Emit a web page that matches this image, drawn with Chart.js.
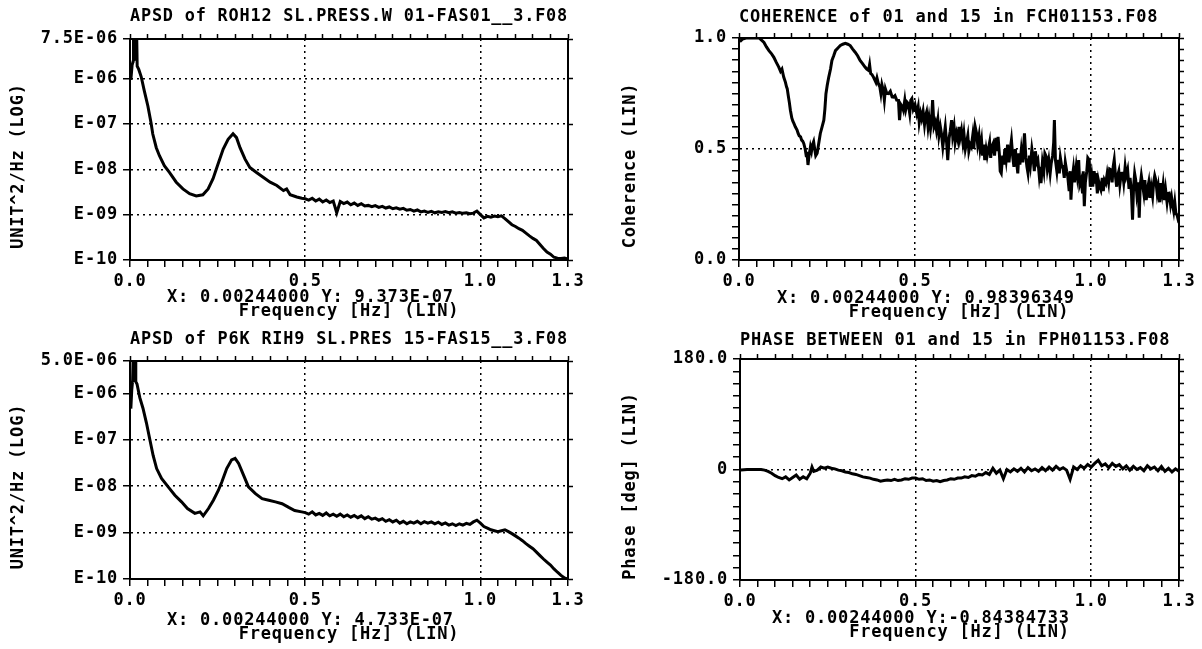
<!DOCTYPE html>
<html>
<head>
<meta charset="utf-8">
<script src="https://cdn.jsdelivr.net/npm/chart.js@4.4.1/dist/chart.umd.min.js"></script>
<style>
  html, body { margin: 0; padding: 0; background: #fff; }
  #page { position: relative; width: 1202px; height: 649px; overflow: hidden; background: #fff; }
  canvas { position: absolute; }
</style>
</head>
<body>
<div id="page">
  <canvas id="c1" width="601" height="320" style="left:0;top:0"></canvas>
  <canvas id="c2" width="601" height="320" style="left:601px;top:0"></canvas>
  <canvas id="c3" width="601" height="329" style="left:0;top:320px"></canvas>
  <canvas id="c4" width="601" height="329" style="left:601px;top:320px"></canvas>
</div>
<script>
// frequency axis (Hz), shared by all four panels
const xLabelVals = [0, 0.5, 1.0, 1.25];
const xLabels = ["0.0", "0.5", "1.0", "1.3"];
const xGridVals = [0.5, 1.0];
const xTickVals = [];
for (let i = 0; i <= 25; i++) xTickVals.push(+(i * 0.05).toFixed(2));

// APSD of ROH12 SL.PRESS.W 01  [freq, UNIT^2/Hz]
const apsd1Points = [
  [0.0024, 9.4e-7], [0.006, 2.0e-6], [0.0095, 2.5e-6], [0.010, 1e-5], [0.0115, 2.6e-6],
  [0.016, 2.9e-6], [0.019, 1e-5], [0.0205, 1.9e-6], [0.025, 1.6e-6], [0.032, 1.1e-6],
  [0.041, 5.3e-7], [0.051, 2.5e-7], [0.060, 1.07e-7], [0.065, 6.0e-8], [0.075, 3.0e-8],
  [0.084, 2.0e-8], [0.098, 1.2e-8], [0.113, 8.5e-9], [0.132, 5.2e-9], [0.151, 3.7e-9],
  [0.170, 2.9e-9], [0.189, 2.6e-9], [0.208, 2.75e-9], [0.223, 3.7e-9], [0.237, 6.2e-9],
  [0.251, 1.3e-8], [0.266, 2.8e-8], [0.280, 4.6e-8], [0.294, 6.1e-8], [0.304, 5.0e-8],
  [0.314, 3.0e-8], [0.328, 1.7e-8], [0.342, 1.1e-8], [0.361, 8.5e-9], [0.381, 6.6e-9],
  [0.400, 5.2e-9], [0.419, 4.4e-9], [0.438, 3.4e-9], [0.447, 3.7e-9], [0.457, 2.75e-9],
  [0.476, 2.45e-9], [0.49, 2.3e-9], [0.50, 2.24e-9], [0.51, 2.1e-9], [0.52, 2.3e-9],
  [0.53, 2.0e-9], [0.54, 2.2e-9], [0.55, 1.9e-9], [0.56, 2.1e-9], [0.57, 1.85e-9],
  [0.58, 2.0e-9], [0.59, 1.1e-9], [0.60, 1.95e-9], [0.61, 1.75e-9], [0.62, 1.9e-9],
  [0.63, 1.65e-9], [0.64, 1.8e-9], [0.65, 1.6e-9], [0.66, 1.75e-9], [0.67, 1.55e-9],
  [0.68, 1.6e-9], [0.69, 1.5e-9], [0.70, 1.58e-9], [0.71, 1.45e-9], [0.72, 1.52e-9],
  [0.73, 1.4e-9], [0.74, 1.48e-9], [0.75, 1.35e-9], [0.76, 1.42e-9], [0.77, 1.32e-9],
  [0.78, 1.38e-9], [0.79, 1.25e-9], [0.80, 1.3e-9], [0.81, 1.2e-9], [0.82, 1.27e-9],
  [0.83, 1.15e-9], [0.84, 1.2e-9], [0.85, 1.12e-9], [0.86, 1.18e-9], [0.87, 1.1e-9],
  [0.88, 1.16e-9], [0.89, 1.12e-9], [0.90, 1.17e-9], [0.91, 1.1e-9], [0.92, 1.15e-9],
  [0.93, 1.08e-9], [0.94, 1.12e-9], [0.95, 1.07e-9], [0.96, 1.1e-9], [0.97, 1.05e-9],
  [0.98, 1.08e-9], [0.99, 1.2e-9], [1.00, 1.0e-9], [1.01, 8.5e-10], [1.02, 9.2e-10],
  [1.03, 8.8e-10], [1.04, 9.3e-10], [1.05, 9.0e-10], [1.06, 9.4e-10], [1.07, 8.2e-10],
  [1.08, 7.0e-10], [1.09, 6.0e-10], [1.10, 5.5e-10], [1.11, 4.9e-10], [1.12, 4.5e-10],
  [1.13, 3.9e-10], [1.14, 3.4e-10], [1.15, 3.0e-10], [1.16, 2.7e-10], [1.17, 2.2e-10],
  [1.18, 1.8e-10], [1.19, 1.5e-10], [1.20, 1.35e-10], [1.21, 1.15e-10], [1.22, 1.1e-10],
  [1.23, 1.08e-10], [1.24, 1.1e-10], [1.25, 1.05e-10]
];
const apsd1TickVals = [1e-10, 1e-9, 1e-8, 1e-7, 1e-6, 7.5e-6];
const apsd1TickLabels = ["E-10", "E-09", "E-08", "E-07", "E-06", "7.5E-06"];

// APSD of P6K RIH9 SL.PRES 15
const apsd2Points = [
  [0.0024, 4.7e-7], [0.005, 1.2e-6], [0.0075, 1.9e-6], [0.009, 6e-6], [0.0105, 1.9e-6],
  [0.0135, 2.0e-6], [0.015, 6e-6], [0.0165, 1.8e-6], [0.020, 1.6e-6], [0.028, 8.1e-7],
  [0.037, 4.8e-7], [0.047, 2.3e-7], [0.056, 1.07e-7], [0.066, 4.6e-8], [0.076, 2.4e-8],
  [0.090, 1.47e-8], [0.109, 9.7e-9], [0.128, 6.4e-9], [0.147, 4.6e-9], [0.164, 3.3e-9],
  [0.185, 2.6e-9], [0.200, 2.8e-9], [0.209, 2.3e-9], [0.224, 3.3e-9], [0.238, 5.0e-9],
  [0.252, 8.1e-9], [0.262, 1.23e-8], [0.276, 2.4e-8], [0.290, 3.7e-8], [0.300, 4.0e-8],
  [0.310, 3.1e-8], [0.324, 1.74e-8], [0.338, 9.7e-9], [0.358, 6.9e-9], [0.377, 5.4e-9],
  [0.396, 5.0e-9], [0.415, 4.6e-9], [0.434, 4.2e-9], [0.453, 3.5e-9], [0.470, 3.0e-9],
  [0.49, 2.8e-9], [0.50, 2.7e-9], [0.51, 2.5e-9], [0.52, 2.8e-9], [0.53, 2.4e-9],
  [0.54, 2.6e-9], [0.55, 2.35e-9], [0.56, 2.65e-9], [0.57, 2.3e-9], [0.58, 2.5e-9],
  [0.59, 2.25e-9], [0.60, 2.5e-9], [0.61, 2.2e-9], [0.62, 2.4e-9], [0.63, 2.15e-9],
  [0.64, 2.35e-9], [0.65, 2.1e-9], [0.66, 2.3e-9], [0.67, 2.0e-9], [0.68, 2.2e-9],
  [0.69, 1.95e-9], [0.70, 2.05e-9], [0.71, 1.85e-9], [0.72, 2.0e-9], [0.73, 1.75e-9],
  [0.74, 1.9e-9], [0.75, 1.7e-9], [0.76, 1.85e-9], [0.77, 1.6e-9], [0.78, 1.75e-9],
  [0.79, 1.55e-9], [0.80, 1.7e-9], [0.81, 1.6e-9], [0.82, 1.75e-9], [0.83, 1.55e-9],
  [0.84, 1.72e-9], [0.85, 1.6e-9], [0.86, 1.7e-9], [0.87, 1.55e-9], [0.88, 1.68e-9],
  [0.89, 1.5e-9], [0.90, 1.62e-9], [0.91, 1.45e-9], [0.92, 1.55e-9], [0.93, 1.42e-9],
  [0.94, 1.55e-9], [0.95, 1.45e-9], [0.96, 1.58e-9], [0.97, 1.5e-9], [0.98, 1.7e-9],
  [0.99, 1.85e-9], [1.00, 1.6e-9], [1.01, 1.35e-9], [1.02, 1.25e-9], [1.03, 1.15e-9],
  [1.04, 1.1e-9], [1.05, 1.05e-9], [1.06, 1.1e-9], [1.07, 1.15e-9], [1.08, 1.05e-9],
  [1.09, 9.5e-10], [1.10, 8.5e-10], [1.11, 7.6e-10], [1.12, 6.7e-10], [1.13, 5.8e-10],
  [1.14, 5.1e-10], [1.15, 4.5e-10], [1.16, 3.8e-10], [1.17, 3.2e-10], [1.18, 2.7e-10],
  [1.19, 2.3e-10], [1.20, 2.0e-10], [1.21, 1.65e-10], [1.22, 1.4e-10], [1.23, 1.2e-10],
  [1.24, 1.05e-10], [1.25, 1.0e-10]
];
const apsd2TickVals = [1e-10, 1e-9, 1e-8, 1e-7, 1e-6, 5e-6];
const apsd2TickLabels = ["E-10", "E-09", "E-08", "E-07", "E-06", "5.0E-06"];
const apsdGridVals = [1e-9, 1e-8, 1e-7, 1e-6];

// coherence of 01 and 15
const cohPoints = [
  [0.0024, 0.984], [0.01, 0.995], [0.02, 1.0], [0.03, 1.0], [0.045, 1.0], [0.057, 1.0],
  [0.064, 0.99], [0.071, 0.98], [0.078, 0.96], [0.085, 0.943], [0.092, 0.93], [0.099, 0.913],
  [0.106, 0.89], [0.113, 0.869], [0.118, 0.85], [0.122, 0.86], [0.127, 0.824], [0.132, 0.80],
  [0.135, 0.78], [0.137, 0.772], [0.14, 0.74], [0.143, 0.71], [0.146, 0.675], [0.150, 0.64],
  [0.153, 0.625], [0.156, 0.615], [0.160, 0.60], [0.165, 0.585], [0.168, 0.57], [0.171, 0.56],
  [0.175, 0.555], [0.178, 0.54], [0.181, 0.535], [0.184, 0.525], [0.188, 0.50], [0.191, 0.47],
  [0.193, 0.488], [0.196, 0.428], [0.199, 0.47], [0.203, 0.51], [0.206, 0.49], [0.209, 0.52],
  [0.212, 0.533], [0.215, 0.50], [0.218, 0.47], [0.222, 0.481], [0.226, 0.52], [0.231, 0.57],
  [0.236, 0.60], [0.241, 0.63], [0.244, 0.68], [0.247, 0.749], [0.251, 0.79], [0.255, 0.824],
  [0.26, 0.86], [0.264, 0.899], [0.269, 0.92], [0.274, 0.943], [0.281, 0.955], [0.288, 0.966],
  [0.295, 0.972], [0.302, 0.976], [0.309, 0.972], [0.316, 0.966], [0.323, 0.95], [0.330, 0.936],
  [0.337, 0.92], [0.344, 0.899], [0.351, 0.885], [0.358, 0.869], [0.363, 0.86], [0.368, 0.854],
  [0.371, 0.88], [0.374, 0.84], [0.378, 0.835], [0.382, 0.824], [0.386, 0.81], [0.389, 0.80],
  [0.392, 0.82], [0.396, 0.794], [0.40, 0.78], [0.403, 0.75], [0.406, 0.79], [0.410, 0.764],
  [0.413, 0.72], [0.416, 0.77], [0.420, 0.75], [0.425, 0.749], [0.43, 0.76], [0.435, 0.735],
  [0.439, 0.734], [0.443, 0.74], [0.448, 0.72], [0.453, 0.719], [0.456, 0.63], [0.460, 0.70],
  [0.464, 0.69], [0.467, 0.675], [0.471, 0.72], [0.474, 0.68], [0.478, 0.71], [0.481, 0.704],
  [0.485, 0.66], [0.488, 0.72], [0.491, 0.727], [0.495, 0.68], [0.50, 0.70], [0.505, 0.66],
  [0.509, 0.69], [0.512, 0.62], [0.516, 0.66], [0.519, 0.637], [0.523, 0.67], [0.527, 0.61],
  [0.53, 0.65], [0.533, 0.667], [0.537, 0.60], [0.54, 0.64], [0.544, 0.59], [0.547, 0.63],
  [0.55, 0.72], [0.554, 0.60], [0.558, 0.62], [0.561, 0.585], [0.565, 0.63], [0.568, 0.56],
  [0.572, 0.60], [0.575, 0.57], [0.579, 0.51], [0.582, 0.55], [0.586, 0.60], [0.59, 0.525],
  [0.593, 0.45], [0.597, 0.55], [0.60, 0.58], [0.604, 0.63], [0.607, 0.56], [0.611, 0.60],
  [0.614, 0.53], [0.618, 0.57], [0.622, 0.54], [0.625, 0.60], [0.628, 0.55], [0.632, 0.585],
  [0.636, 0.53], [0.639, 0.57], [0.643, 0.50], [0.646, 0.525], [0.65, 0.56], [0.653, 0.49],
  [0.657, 0.52], [0.66, 0.51], [0.664, 0.56], [0.667, 0.50], [0.671, 0.60], [0.675, 0.57],
  [0.678, 0.52], [0.682, 0.56], [0.685, 0.50], [0.689, 0.54], [0.692, 0.47], [0.696, 0.52],
  [0.698, 0.45], [0.702, 0.50], [0.705, 0.47], [0.708, 0.496], [0.712, 0.53], [0.715, 0.46],
  [0.718, 0.51], [0.722, 0.525], [0.726, 0.47], [0.73, 0.55], [0.733, 0.49], [0.736, 0.555],
  [0.74, 0.47], [0.742, 0.40], [0.745, 0.391], [0.749, 0.47], [0.752, 0.43], [0.755, 0.50],
  [0.759, 0.451], [0.763, 0.52], [0.767, 0.44], [0.77, 0.49], [0.774, 0.54], [0.778, 0.46],
  [0.781, 0.42], [0.785, 0.50], [0.788, 0.451], [0.792, 0.39], [0.795, 0.48], [0.798, 0.43],
  [0.802, 0.496], [0.806, 0.44], [0.809, 0.52], [0.811, 0.57], [0.815, 0.46], [0.818, 0.42],
  [0.821, 0.391], [0.825, 0.47], [0.828, 0.43], [0.832, 0.50], [0.835, 0.466], [0.839, 0.40],
  [0.842, 0.49], [0.846, 0.44], [0.849, 0.451], [0.853, 0.38], [0.856, 0.42], [0.858, 0.346],
  [0.862, 0.44], [0.866, 0.40], [0.869, 0.48], [0.873, 0.466], [0.876, 0.41], [0.88, 0.45],
  [0.884, 0.39], [0.887, 0.436], [0.891, 0.47], [0.894, 0.53], [0.896, 0.63], [0.899, 0.45],
  [0.903, 0.40], [0.906, 0.451], [0.91, 0.39], [0.913, 0.46], [0.917, 0.42], [0.92, 0.421],
  [0.924, 0.37], [0.927, 0.44], [0.931, 0.40], [0.934, 0.376], [0.938, 0.31], [0.941, 0.40],
  [0.943, 0.272], [0.946, 0.36], [0.95, 0.41], [0.953, 0.35], [0.958, 0.421], [0.961, 0.38],
  [0.965, 0.45], [0.968, 0.34], [0.972, 0.361], [0.976, 0.30], [0.978, 0.40], [0.981, 0.242],
  [0.984, 0.35], [0.988, 0.40], [0.991, 0.46], [0.995, 0.451], [0.998, 0.33], [1.002, 0.38],
  [1.005, 0.331], [1.009, 0.40], [1.012, 0.35], [1.014, 0.391], [1.018, 0.30], [1.021, 0.36],
  [1.025, 0.33], [1.028, 0.316], [1.032, 0.37], [1.035, 0.31], [1.038, 0.36], [1.042, 0.346],
  [1.046, 0.39], [1.05, 0.35], [1.053, 0.41], [1.057, 0.406], [1.06, 0.35], [1.063, 0.42],
  [1.066, 0.451], [1.07, 0.37], [1.073, 0.33], [1.075, 0.376], [1.079, 0.40], [1.082, 0.34],
  [1.086, 0.39], [1.09, 0.391], [1.093, 0.35], [1.097, 0.42], [1.10, 0.38], [1.104, 0.406],
  [1.108, 0.32], [1.111, 0.37], [1.115, 0.30], [1.118, 0.182], [1.121, 0.33], [1.124, 0.39],
  [1.127, 0.361], [1.13, 0.30], [1.134, 0.35], [1.137, 0.19], [1.14, 0.34], [1.143, 0.38],
  [1.146, 0.346], [1.15, 0.30], [1.153, 0.36], [1.157, 0.27], [1.16, 0.316], [1.164, 0.35],
  [1.167, 0.28], [1.171, 0.33], [1.175, 0.287], [1.178, 0.35], [1.181, 0.38], [1.184, 0.361],
  [1.188, 0.30], [1.191, 0.33], [1.195, 0.26], [1.198, 0.346], [1.202, 0.30], [1.205, 0.34],
  [1.209, 0.27], [1.212, 0.316], [1.216, 0.26], [1.219, 0.30], [1.222, 0.301], [1.226, 0.25],
  [1.229, 0.28], [1.231, 0.257], [1.235, 0.22], [1.238, 0.26], [1.241, 0.212], [1.245, 0.20],
  [1.248, 0.18], [1.25, 0.167]
];
const cohTickLabelVals = [0, 0.5, 1.0];
const cohTickLabels = ["0.0", "0.5", "1.0"];

// phase between 01 and 15 (deg)
const phasePoints = [
  [0.0024, -0.84], [0.02, 0], [0.04, 0], [0.06, 0], [0.07, -1], [0.08, -3], [0.09, -6],
  [0.10, -10], [0.11, -13], [0.12, -15], [0.13, -12], [0.14, -17], [0.15, -13], [0.16, -9],
  [0.17, -16], [0.18, -12], [0.19, -15], [0.20, -6], [0.205, 4], [0.21, -3], [0.22, -1],
  [0.23, 4], [0.24, 2], [0.25, 4], [0.26, 2], [0.27, 1], [0.28, -1], [0.29, -2], [0.30, -4],
  [0.31, -5], [0.32, -7], [0.33, -8], [0.34, -10], [0.35, -12], [0.36, -13], [0.37, -14],
  [0.38, -16], [0.39, -17], [0.40, -19], [0.41, -18], [0.42, -17], [0.43, -18], [0.44, -16],
  [0.45, -18], [0.46, -17], [0.47, -15], [0.48, -16], [0.49, -14], [0.50, -14], [0.51, -16],
  [0.52, -15], [0.53, -18], [0.54, -17], [0.55, -19], [0.56, -18], [0.57, -20], [0.58, -18],
  [0.59, -17], [0.60, -15], [0.61, -16], [0.62, -14], [0.63, -14], [0.64, -12], [0.65, -13],
  [0.66, -10], [0.67, -11], [0.68, -8], [0.69, -9], [0.70, -5], [0.71, -8], [0.72, 2],
  [0.73, -6], [0.74, -1], [0.75, -15], [0.76, 0], [0.77, -4], [0.78, 1], [0.79, -3], [0.80, 2],
  [0.81, -4], [0.82, 3], [0.83, -2], [0.84, 1], [0.85, -3], [0.86, 3], [0.87, -2], [0.88, 4],
  [0.89, -1], [0.90, 5], [0.91, 0], [0.92, 3], [0.93, -1], [0.94, -16], [0.95, 4], [0.96, 0],
  [0.97, 6], [0.98, 2], [0.99, 8], [1.00, 4], [1.01, 10], [1.02, 15], [1.03, 6], [1.04, 9],
  [1.05, 3], [1.06, 10], [1.07, 5], [1.08, 8], [1.09, 1], [1.10, 6], [1.11, -1], [1.12, 5],
  [1.13, 0], [1.14, 3], [1.15, -2], [1.16, 6], [1.17, 1], [1.18, 4], [1.19, -2], [1.20, 5],
  [1.21, -3], [1.22, 2], [1.23, -4], [1.24, 1], [1.25, -3]
];
const phaseTickLabelVals = [-180, 0, 180];
const phaseTickLabels = ["-180.0", "0", "180.0"];

const cohTickVals = [];
for (let i = 0; i <= 20; i++) cohTickVals.push(+(i * 0.05).toFixed(2));
const phaseTickVals = [];
for (let d = -180; d <= 180; d += 20) phaseTickVals.push(d);

const FONT = { family: '"DejaVu Sans Mono", monospace', size: 17, weight: "bold", lineHeight: "18px" };
const INK = "#000";
const CLEAR = "rgba(0,0,0,0)";

// plotter lettering is a little wider than DejaVu Sans Mono
const letterSpacing = {
  id: "letterSpacing",
  beforeLayout(chart) { chart.ctx.letterSpacing = "0.8px"; },
  beforeDraw(chart) { chart.ctx.letterSpacing = "0.8px"; }
};

function near(a, b) {
  return Math.abs(a - b) <= Math.abs(b) * 1e-6 + (b === 0 ? 1e-9 : 0);
}
function isIn(v, list) {
  return v !== undefined && list.some(b => near(v, b));
}
function labelFor(v, vals, labels) {
  const i = vals.findIndex(b => near(v, b));
  return i < 0 ? "" : labels[i];
}

function drawPanel(id, p) {
  const canvas = document.getElementById(id);
  const W = canvas.width, H = canvas.height;
  const setTicks = vals => s => { s.ticks = vals.map(v => ({ value: v })); };
  const yBase = { type: p.yType, min: p.yMin, max: p.yMax, afterBuildTicks: setTicks(p.yTicks) };
  const xBase = { type: "linear", min: 0, max: 1.25, afterBuildTicks: setTicks(xTickVals) };

  new Chart(canvas, {
    type: "line",
    data: {
      datasets: [{
        data: p.points.map(([x, y]) => ({ x, y })),
        xAxisID: "x", yAxisID: "y",
        borderColor: INK, borderWidth: 3, pointRadius: 0, tension: 0, fill: false
      }]
    },
    plugins: [letterSpacing],
    options: {
      responsive: false,
      animation: false,
      events: [],
      layout: { padding: 0 },
      plugins: {
        legend: { display: false },
        tooltip: { enabled: false },
        title: {
          display: true, text: p.title, align: "start", fullSize: false, color: INK, font: FONT,
          padding: { top: p.titleTop, bottom: p.top - 8 - 18 - p.titleTop }
        }
      },
      scales: {
        x: {
          ...xBase, position: "bottom",
          afterFit: s => { s.height = H - p.bottom; },
          ticks: { autoSkip: false, maxRotation: 0, color: INK, font: FONT, padding: 6,
                   callback: v => labelFor(v, xLabelVals, xLabels) },
          grid: { color: c => isIn(c.tick && c.tick.value, xGridVals) ? INK : CLEAR,
                  lineWidth: 1.5, tickColor: INK, tickLength: 7, tickWidth: 1.5 },
          border: { color: INK, width: 2, dash: [2, 4] },
          title: { display: true, text: [p.cursor, "Frequency [Hz] (LIN)"], color: INK,
                   font: { ...FONT, lineHeight: "14px" }, padding: { top: 0, bottom: p.xTitleBottom } }
        },
        x2: {
          ...xBase, position: "top",
          afterFit: s => { s.height = 8; },
          ticks: { display: false },
          grid: { drawOnChartArea: false, tickColor: INK, tickLength: 5, tickWidth: 1.5 },
          border: { color: INK, width: 2 }
        },
        y: {
          ...yBase, position: "left",
          afterFit: s => { s.width = p.left; },
          ticks: { autoSkip: false, color: INK, font: FONT, padding: 5,
                   callback: v => labelFor(v, p.yLabelVals, p.yLabels) },
          grid: { color: c => isIn(c.tick && c.tick.value, p.yGridVals) ? INK : CLEAR,
                  lineWidth: 1.5, tickColor: INK, tickLength: 7, tickWidth: 1.5 },
          border: { color: INK, width: 2, dash: [2, 4] },
          title: { display: true, text: p.yTitle + "   ", color: INK, font: FONT,
                   padding: { top: p.yTitleLeft, bottom: 0 } }
        },
        y2: {
          ...yBase, position: "right",
          afterFit: s => { s.width = W - p.right; },
          ticks: { display: false },
          grid: { drawOnChartArea: false, tickColor: INK, tickLength: 5, tickWidth: 1.5 },
          border: { color: INK, width: 2 }
        }
      }
    }
  });
}

drawPanel("c1", {
  title: "APSD of ROH12 SL.PRESS.W 01-FAS01__3.F08",
  yTitle: "UNIT^2/Hz (LOG)",
  cursor: "X: 0.00244000 Y: 9.373E-07       ",
  points: apsd1Points,
  yType: "logarithmic", yMin: 1e-10, yMax: 7.5e-6,
  yTicks: apsd1TickVals, yLabelVals: apsd1TickVals, yLabels: apsd1TickLabels, yGridVals: apsdGridVals,
  left: 130, right: 568, top: 39, bottom: 260,
  titleTop: 8, yTitleLeft: 10, xTitleBottom: 1
});

drawPanel("c2", {
  title: "COHERENCE of 01 and 15 in FCH01153.F08",
  yTitle: "Coherence (LIN)",
  cursor: "X: 0.00244000 Y: 0.98396349      ",
  points: cohPoints,
  yType: "linear", yMin: 0, yMax: 1,
  yTicks: cohTickVals, yLabelVals: cohTickLabelVals, yLabels: cohTickLabels, yGridVals: [0.5],
  left: 138, right: 578, top: 38, bottom: 260,
  titleTop: 9, yTitleLeft: 21, xTitleBottom: 0
});

drawPanel("c3", {
  title: "APSD of P6K RIH9 SL.PRES 15-FAS15__3.F08",
  yTitle: "UNIT^2/Hz (LOG)",
  cursor: "X: 0.00244000 Y: 4.733E-07       ",
  points: apsd2Points,
  yType: "logarithmic", yMin: 1e-10, yMax: 5e-6,
  yTicks: apsd2TickVals, yLabelVals: apsd2TickVals, yLabels: apsd2TickLabels, yGridVals: apsdGridVals,
  left: 130, right: 568, top: 41, bottom: 259,
  titleTop: 11, yTitleLeft: 10, xTitleBottom: 7
});

drawPanel("c4", {
  title: "PHASE BETWEEN 01 and 15 in FPH01153.F08",
  yTitle: "Phase [deg] (LIN)",
  cursor: "X: 0.00244000 Y:-0.84384733       ",
  points: phasePoints,
  yType: "linear", yMin: -180, yMax: 180,
  yTicks: phaseTickVals, yLabelVals: phaseTickLabelVals, yLabels: phaseTickLabels, yGridVals: [0],
  left: 139, right: 578, top: 39, bottom: 260,
  titleTop: 12, yTitleLeft: 21, xTitleBottom: 9
});
</script>
</body>
</html>
